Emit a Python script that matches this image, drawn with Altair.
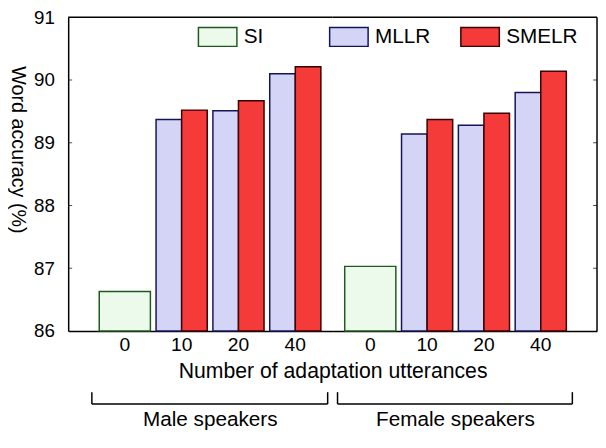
import altair as alt
import pandas as pd

# ---------------- data ----------------
methods = ["SI", "MLLR", "SMELR"]
utterances = ["0", "10", "20", "40"]
adapted_utterances = ["10", "20", "40"]

male_si = 86.63
male_mllr = [89.37, 89.51, 90.10]
male_smelr = [89.52, 89.67, 90.21]

female_si = 87.03
female_mllr = [89.14, 89.28, 89.80]
female_smelr = [89.37, 89.47, 90.14]

y_ticks = [86, 87, 88, 89, 90, 91]
inner_ticks = [87, 88, 89, 90]
y_top = [91]
y_base = 86

fill_colors = ["#ecfaec", "#d4d4f6", "#f53a3a"]
stroke_colors = ["#1e5a1e", "#14145a", "#3a0000"]

FONT = "Liberation Sans"
H = 318


def panel(si_val, mllr, smelr, width, pad_outer, align, gender_title,
          title_x, bracket, left_side, with_xtitle):
    si_df = pd.DataFrame({"utt": ["0"], "method": ["SI"], "acc": [si_val]})
    ad_df = pd.DataFrame({
        "utt": adapted_utterances * 2,
        "method": ["MLLR"] * 3 + ["SMELR"] * 3,
        "acc": mllr + smelr,
    })
    xscale = alt.Scale(domain=utterances, paddingInner=0.1,
                       paddingOuter=pad_outer, align=align)
    yscale = alt.Scale(domain=[86, 91], nice=False, zero=False)

    legend = alt.Legend(
        title=None, orient="none", legendX=131, legendY=-1,
        direction="horizontal", columns=3, gridAlign="all",
        columnPadding=11, labelFontSize=21, labelFont=FONT,
        labelColor="black", labelOffset=6,
        symbolType="M-1,-0.49L1,-0.49L1,0.49L-1,0.49Z",
        symbolSize=1521, symbolStrokeWidth=1.5, symbolOpacity=1,
        padding=0,
    )
    fill = alt.Fill("method:N", scale=alt.Scale(domain=methods, range=fill_colors),
                    legend=legend)
    stroke = alt.Stroke("method:N", scale=alt.Scale(domain=methods, range=stroke_colors),
                        legend=legend)

    xaxis = alt.Axis(
        title=gender_title, labelAngle=0, ticks=False, labelPadding=5,
        labelFontSize=19.5, titleFontSize=21, titleFontWeight="normal",
        titleX=title_x, titleY=96, titleAlign="center",
        titleBaseline="alphabetic", domainColor="black", domainWidth=1.5,
        labelColor="black", titleColor="black", labelFont=FONT, titleFont=FONT,
        minExtent=0,
    )
    if left_side:
        yaxis = alt.Axis(
            title="Word accuracy (%)", values=y_ticks, ticks=False,
            labelPadding=14, labelFontSize=19, titleFontSize=20,
            titleFontWeight="normal", titleAngle=90, titleX=-51, titleY=134,
            titleAlign="center", titleBaseline="middle",
            domainColor="black", domainWidth=1.5, grid=False,
            labelColor="black", titleColor="black", labelFont=FONT, titleFont=FONT,
        )
    else:
        yaxis = None

    si_bar = alt.Chart(si_df).mark_bar(strokeWidth=1.5).encode(
        x=alt.X("utt:N", scale=xscale, axis=xaxis, sort=utterances),
        y=alt.Y("acc:Q", scale=yscale, axis=yaxis),
        y2=alt.datum(y_base),
        fill=fill, stroke=stroke,
    )
    ad_bar = alt.Chart(ad_df).mark_bar(strokeWidth=1.5).encode(
        x=alt.X("utt:N", scale=xscale, axis=xaxis, sort=utterances),
        xOffset=alt.XOffset("method:N", scale=alt.Scale(domain=["MLLR", "SMELR"],
                                                         paddingInner=0, paddingOuter=0)),
        y=alt.Y("acc:Q", scale=yscale, axis=yaxis),
        y2=alt.datum(y_base),
        fill=fill, stroke=stroke,
    )
    top_rule = alt.Chart(pd.DataFrame({"acc": y_top})).mark_rule(
        color="black", strokeWidth=1.5).encode(
        y=alt.Y("acc:Q", scale=yscale, axis=yaxis))
    ticks = alt.Chart(pd.DataFrame({"acc": inner_ticks})).mark_tick(
        color="black", size=4, thickness=1).encode(
        y=alt.Y("acc:Q", scale=yscale, axis=yaxis),
        x=alt.value(2 if left_side else width - 2))

    one = pd.DataFrame({"k": [0]})
    bx0, bx1 = bracket
    br_h = alt.Chart(one).mark_rule(color="black", strokeWidth=1.5).encode(
        x=alt.value(bx0), x2=alt.value(bx1), y=alt.value(392))
    br_l = alt.Chart(one).mark_rule(color="black", strokeWidth=1.5).encode(
        x=alt.value(bx0), y=alt.value(380), y2=alt.value(392))
    br_r = alt.Chart(one).mark_rule(color="black", strokeWidth=1.5).encode(
        x=alt.value(bx1), y=alt.value(380), y2=alt.value(392))

    layers = [si_bar, ad_bar, top_rule, ticks, br_h, br_l, br_r]
    if not left_side:
        right_border = alt.Chart(one).mark_rule(color="black", strokeWidth=1.5).encode(
            x=alt.value(width), y=alt.value(0), y2=alt.value(H))
        layers.append(right_border)
    if with_xtitle:
        xt = alt.Chart(pd.DataFrame({"t": ["Number of adaptation utterances"]})).mark_text(
            fontSize=21.5, font=FONT, align="center", baseline="alphabetic",
            color="black").encode(
            text="t:N", x=alt.value(width + 0.5), y=alt.value(366))
        layers.append(xt)
    return alt.layer(*layers).properties(width=width, height=H)


male = panel(male_si, male_mllr, male_smelr, 268, 0.3765, 0.726,
             "Male speakers", 143.5, (24, 263), True, True)
female = panel(female_si, female_mllr, female_smelr, 268, 0.3765, 0.283,
               "Female speakers", 124, (5, 243), False, False)

chart = alt.hconcat(male, female, spacing=0, bounds="flush").resolve_scale(
    x="independent", y="independent", fill="shared", stroke="shared"
).resolve_axis(x="independent", y="independent").properties(
    padding={"left": 0, "top": -2.5, "right": 0, "bottom": 0},
    background="white",
).configure_view(stroke="transparent", strokeWidth=0)

chart.save("out.html", embed_options={"renderer": "svg", "actions": False})
